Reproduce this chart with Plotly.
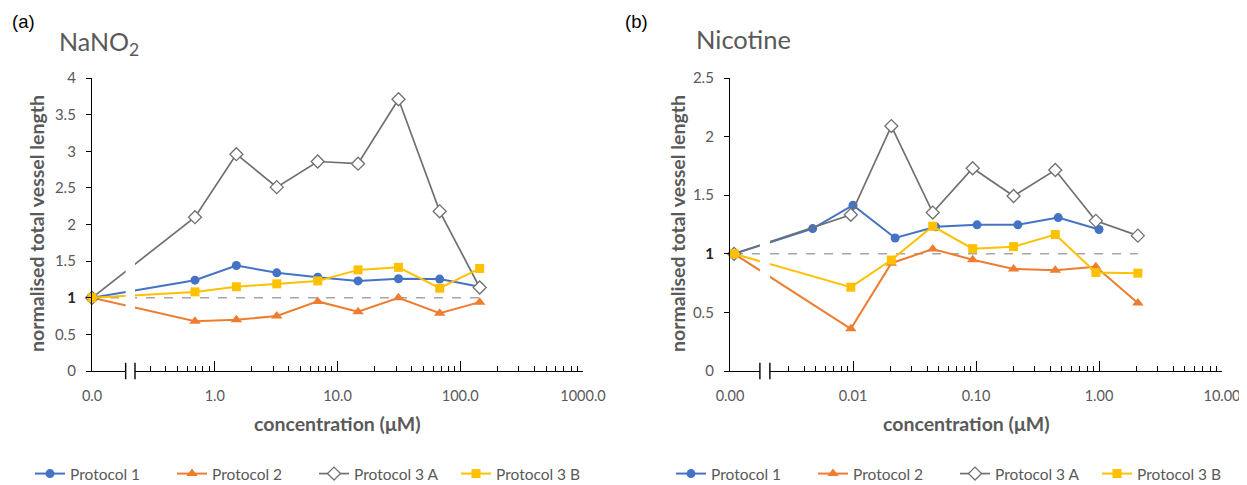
import math
import plotly.graph_objects as go

# ---------------- data ----------------
# (a) NaNO2 -- first entry is the control, drawn at the "0.0" position of the broken axis
nano_conc = [0.1, 0.69, 1.5, 3.2, 6.9, 14.7, 31.4, 68, 144]
nano_p1 = [1, 1.24, 1.44, 1.34, 1.28, 1.23, 1.26, 1.255, 1.15]
nano_p2 = [1, 0.68, 0.70, 0.75, 0.95, 0.81, 1.0, 0.79, 0.94]
nano_p3a = [1, 2.10, 2.96, 2.51, 2.86, 2.83, 3.71, 2.18, 1.14]
nano_p3b = [1, 1.08, 1.15, 1.19, 1.23, 1.38, 1.415, 1.13, 1.40]
nano_xticks = [0.1, 1, 10, 100, 1000]
nano_xticklabels = ["0.0", "1.0", "10.0", "100.0", "1000.0"]
nano_yticks = [0, 0.5, 1, 1.5, 2, 2.5, 3, 3.5, 4]

# (b) Nicotine
nic_p1_conc = [0.00108, 0.0047, 0.01, 0.022, 0.047, 0.102, 0.219, 0.466, 1.0]
nic_p1 = [1, 1.215, 1.415, 1.135, 1.23, 1.247, 1.247, 1.309, 1.207]
nic_conc = [0.00108, 0.0096, 0.0205, 0.0445, 0.094, 0.202, 0.441, 0.942, 2.07]
nic_p2 = [1, 0.36, 0.92, 1.04, 0.95, 0.87, 0.86, 0.89, 0.58]
nic_p3a = [1, 1.333, 2.09, 1.352, 1.73, 1.493, 1.715, 1.281, 1.155]
nic_p3b = [1, 0.715, 0.947, 1.235, 1.044, 1.061, 1.164, 0.841, 0.835]
nic_xticks = [0.001, 0.01, 0.1, 1, 10]
nic_xticklabels = ["0.00", "0.01", "0.10", "1.00", "10.00"]
nic_yticks = [0, 0.5, 1, 1.5, 2, 2.5]

series_names = ["Protocol 1", "Protocol 2", "Protocol 3 A", "Protocol 3 B"]
colors = ["#4472C4", "#ED7D31", "#707070", "#FFC000"]
baseline = 1

# ---------------- layout helpers ----------------
# the page body has an 8px margin, so the figure is sized to fit the window after it
OFF = 8
W, H = 1247 - OFF, 485 - OFF
FONT = "Lato, 'Open Sans', sans-serif"
GRAY = "#595959"


def fx(p):
    return (p - OFF) / W


def fy(p):
    return (H - (p - OFF)) / H


Y_DOM = [fy(371), fy(78)]
L_DOM = [fx(92), fx(583)]
R_DOM = [fx(730), fx(1222)]

fig = go.Figure()


def add_panel(xa, ya, legend, conc_list, ys_list, dash_x):
    # dashed reference line at 1
    fig.add_trace(go.Scatter(
        x=dash_x, y=[baseline, baseline], mode="lines",
        line=dict(color="#A6A6A6", width=1.6, dash="dash"),
        showlegend=False, hoverinfo="skip", xaxis=xa, yaxis=ya, cliponaxis=False))
    markers = [
        dict(symbol="circle", size=9, color=colors[0]),
        dict(symbol="triangle-up", size=10, color=colors[1]),
        dict(symbol="diamond", size=10, color="white", line=dict(color=colors[2], width=1.3)),
        dict(symbol="square", size=9, color=colors[3]),
    ]
    for i in range(4):
        fig.add_trace(go.Scatter(
            x=conc_list[i], y=ys_list[i], mode="lines+markers", name=series_names[i],
            line=dict(color=colors[i], width=2 if i != 2 else 1.7),
            marker=markers[i], xaxis=xa, yaxis=ya, legend=legend, cliponaxis=False))


add_panel("x", "y", "legend",
          [nano_conc] * 4, [nano_p1, nano_p2, nano_p3a, nano_p3b],
          [nano_conc[0], nano_conc[-1]])
add_panel("x2", "y2", "legend2",
          [nic_p1_conc, nic_conc, nic_conc, nic_conc], [nic_p1, nic_p2, nic_p3a, nic_p3b],
          [nic_conc[0], nic_conc[-1]])


def minor_vals(lo, hi):
    out = []
    for e in range(lo, hi):
        for m in range(2, 10):
            out.append(m * 10 ** e)
    return out


def xaxis_cfg(dom, anchor, rng, tv, tt, mv):
    return dict(
        type="log", range=rng, domain=dom, anchor=anchor, automargin=False,
        showline=True, linecolor="black", linewidth=1.3,
        ticks="inside", ticklen=10, tickwidth=1.3, tickcolor="black",
        tickmode="array", tickvals=tv, ticktext=tt,
        tickfont=dict(family=FONT, size=14.5, color=GRAY), ticklabelstandoff=11,
        minor=dict(tickmode="array", tickvals=mv, ticks="inside", ticklen=5,
                   tickwidth=1.2, tickcolor="black", showgrid=False),
        showgrid=False, zeroline=False)


def ytext(v):
    if v == 1:
        return "<b><span style='color:#262626'>1</span></b>"
    return "%g" % v


def yaxis_cfg(anchor, rng, tv):
    return dict(
        range=rng, domain=Y_DOM, anchor=anchor, automargin=False,
        showline=True, linecolor="black", linewidth=1.3,
        ticks="outside", ticklen=5, tickwidth=1.3, tickcolor="black",
        tickmode="array", tickvals=tv, ticktext=[ytext(v) for v in tv],
        tickfont=dict(family=FONT, size=15, color=GRAY), ticklabelstandoff=7,
        showgrid=False, zeroline=False)


def legend_cfg(xc):
    return dict(orientation="h", xref="container", yref="container",
                x=fx(xc), y=fy(474), xanchor="center", yanchor="middle",
                entrywidth=97, entrywidthmode="pixels",
                font=dict(family=FONT, size=15.5, color=GRAY), bgcolor="rgba(0,0,0,0)")


fig.update_layout(
    width=W, height=H, margin=dict(l=0, r=0, t=0, b=0, autoexpand=False),
    paper_bgcolor="white", plot_bgcolor="white",
    font=dict(family=FONT, color=GRAY),
    xaxis=xaxis_cfg(L_DOM, "y", [-1, 3], nano_xticks, nano_xticklabels, minor_vals(-1, 3)),
    yaxis=yaxis_cfg("x", [0, 4], nano_yticks),
    xaxis2=xaxis_cfg(R_DOM, "y2", [-3, 1], nic_xticks, nic_xticklabels, minor_vals(-3, 1)),
    yaxis2=yaxis_cfg("x2", [0, 2.5], nic_yticks),
    legend=legend_cfg(314),
    legend2=legend_cfg(955),
    showlegend=True,
)


# broken-axis decoration: white band + two break marks
def dom_frac(v, rng):
    return (math.log10(v) - rng[0]) / (rng[1] - rng[0])


shapes = []
for xref, rng, (b0, b1) in [("x domain", [-1, 3], (0.188, 0.224)),
                            ("x2 domain", [-3, 1], (0.00175, 0.00211))]:
    yref = "y domain" if xref == "x domain" else "y2 domain"
    f0, f1 = dom_frac(b0, rng), dom_frac(b1, rng)
    shapes.append(dict(type="rect", xref=xref, yref=yref, x0=f0, x1=f1, y0=-0.012, y1=1.0,
                       fillcolor="white", line=dict(width=0), layer="above"))
    for f in (f0, f1):
        shapes.append(dict(type="line", xref=xref, yref=yref, x0=f, x1=f, y0=-0.028, y1=0.028,
                           line=dict(color="black", width=1.4), layer="above"))
fig.update_layout(shapes=shapes)

ann = []
# panel letters
for txt, xl in (("(a)", 10), ("(b)", 623)):
    ann.append(dict(text=txt, x=fx(xl), y=fy(22), xref="paper", yref="paper", xanchor="left",
                    yanchor="middle", showarrow=False,
                    font=dict(family="Liberation Sans, Arial", size=18.5, color="black")))
# chart titles
ann.append(dict(text="NaNO<sub>2</sub>", x=fx(57), y=fy(43), xref="paper", yref="paper",
                xanchor="left", yanchor="middle", showarrow=False,
                font=dict(family=FONT, size=25, color=GRAY)))
ann.append(dict(text="Nicotine", x=fx(694), y=fy(39), xref="paper", yref="paper",
                xanchor="left", yanchor="middle", showarrow=False,
                font=dict(family=FONT, size=25.5, color=GRAY)))
# axis titles
for xc in (36, 677):
    ann.append(dict(text="<b>normalised total vessel length</b>", x=fx(xc), y=fy(224),
                    xref="paper", yref="paper", xanchor="center", yanchor="middle",
                    textangle=-90, showarrow=False,
                    font=dict(family=FONT, size=19.5, color=GRAY)))
for xc in (337, 966):
    ann.append(dict(text="<b>concentration (μM)</b>", x=fx(xc), y=fy(423),
                    xref="paper", yref="paper", xanchor="center", yanchor="middle",
                    showarrow=False, font=dict(family=FONT, size=19.5, color=GRAY)))
fig.update_layout(annotations=ann)

fig.write_html("out.html")
